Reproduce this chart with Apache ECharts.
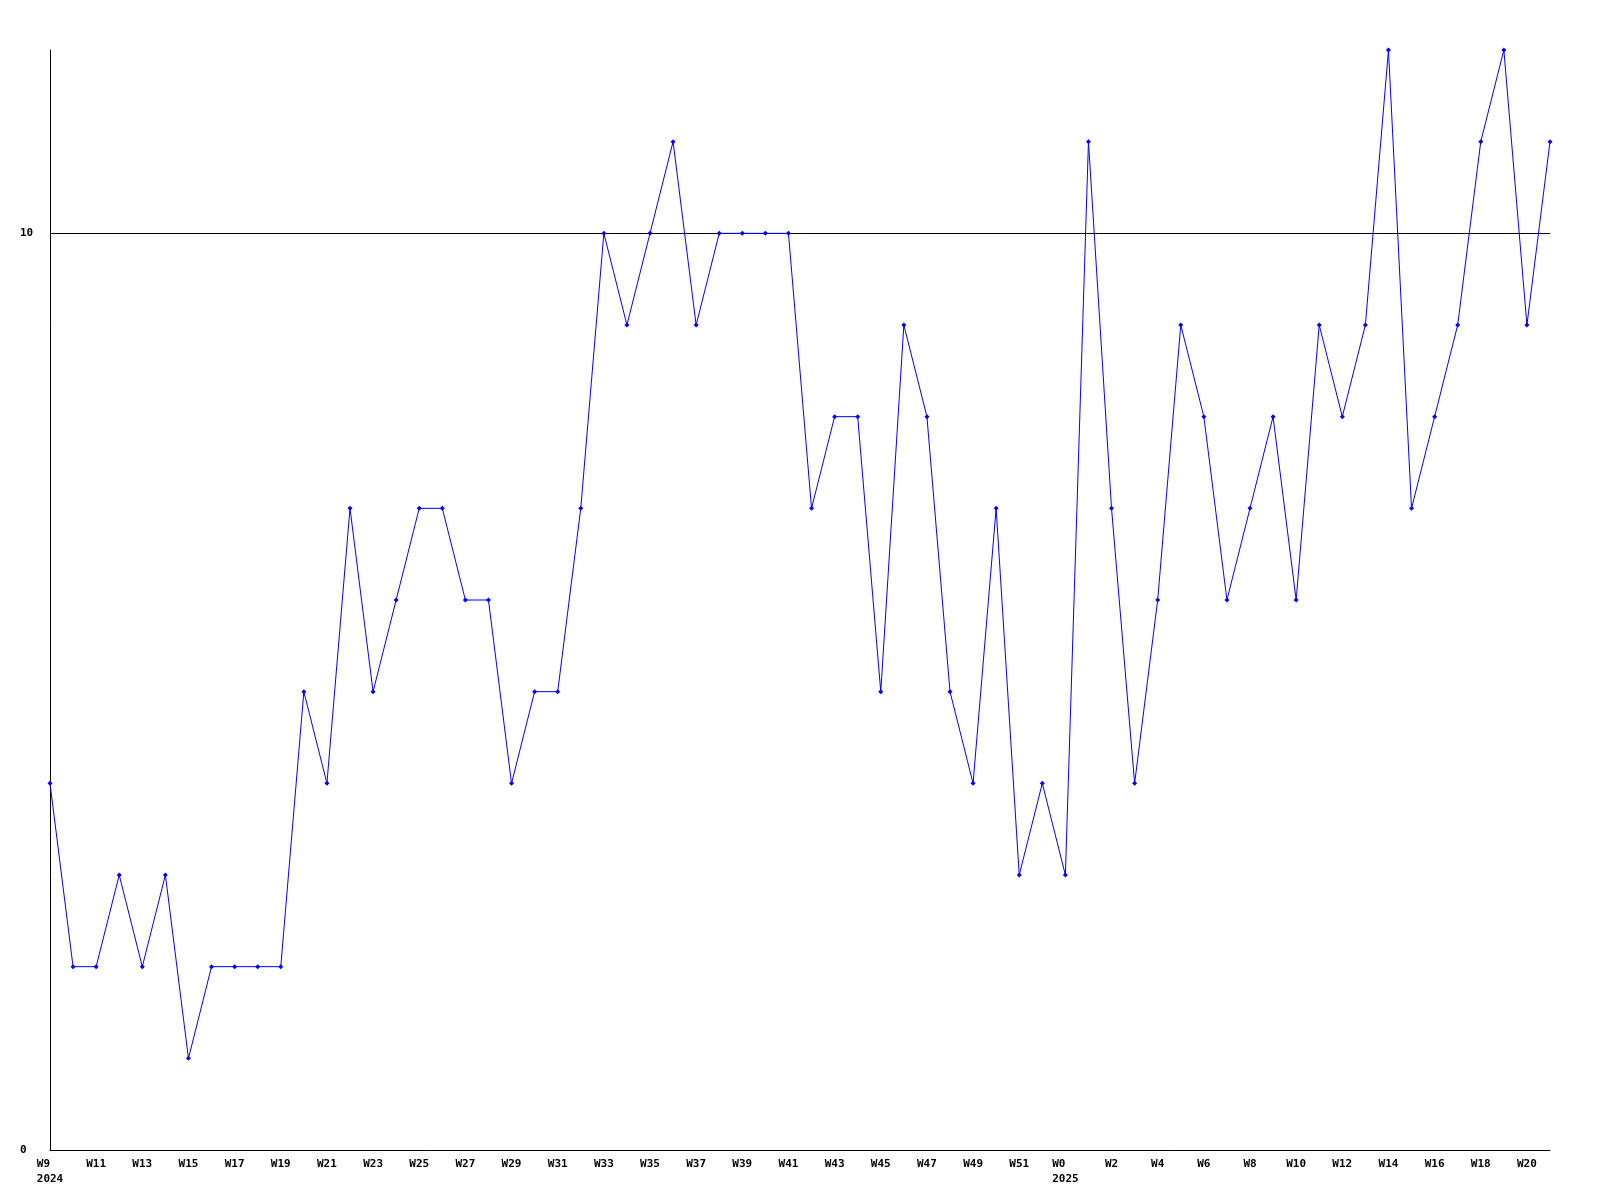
<!DOCTYPE html>
<html>
<head>
<meta charset="utf-8">
<script src="https://cdn.jsdelivr.net/npm/echarts@6/dist/echarts.min.js"></script>
<style>
html,body{margin:0;padding:0;background:#fff;}
#chart{width:1600px;height:1200px;}
</style>
</head>
<body>
<div id="chart"></div>
<script>
const weeks = [
  'W9  \n2024','W10','W11','W12','W13','W14','W15','W16','W17','W18','W19','W20','W21','W22','W23','W24',
  'W25','W26','W27','W28','W29','W30','W31','W32','W33','W34','W35','W36','W37','W38','W39','W40',
  'W41','W42','W43','W44','W45','W46','W47','W48','W49','W50','W51','W52',
  'W0  \n2025','W1','W2','W3','W4','W5','W6','W7','W8','W9','W10','W11','W12','W13','W14','W15',
  'W16','W17','W18','W19','W20','W21'
];
const values = [
  4,2,2,3,2,3,1,2,2,2,2,5,4,7,5,6,
  7,7,6,6,4,5,5,7,10,9,10,11,9,10,10,10,
  10,7,8,8,5,9,8,5,4,7,3,4,
  3,11,7,4,6,9,8,6,7,8,6,9,8,9,12,7,
  8,9,11,12,9,11
];
const yMin = 0, yMax = 12, yInterval = 10;

const chart = echarts.init(document.getElementById('chart'), null, {renderer:'canvas'});
const font = {fontFamily:'DejaVu Sans Mono', fontWeight:'bold', fontSize:11, color:'#000'};
chart.setOption({
  animation:false,
  backgroundColor:'#fff',
  grid:{left:50, right:50, top:50, bottom:50, containLabel:false},
  xAxis:{
    type:'category', data:weeks, boundaryGap:false,
    axisLine:{show:true, lineStyle:{color:'#000', width:1}},
    axisTick:{show:false},
    axisLabel:Object.assign({interval:1, margin:7, lineHeight:15}, font),
    splitLine:{show:false}
  },
  yAxis:{
    type:'value', min:yMin, max:yMax, interval:yInterval, z:3,
    axisLine:{show:true, lineStyle:{color:'#000', width:1}},
    axisTick:{show:false},
    axisLabel:Object.assign({align:'left', margin:30, showMaxLabel:false}, font),
    splitLine:{show:true, showMinLine:false, showMaxLine:false, lineStyle:{color:'#000', width:1}}
  },
  series:[{
    type:'line', data:values,
    symbol:'diamond', symbolSize:5, showAllSymbol:true,
    lineStyle:{color:'#0000ff', width:1},
    itemStyle:{color:'#0000ff'}
  }]
});
</script>
</body>
</html>
